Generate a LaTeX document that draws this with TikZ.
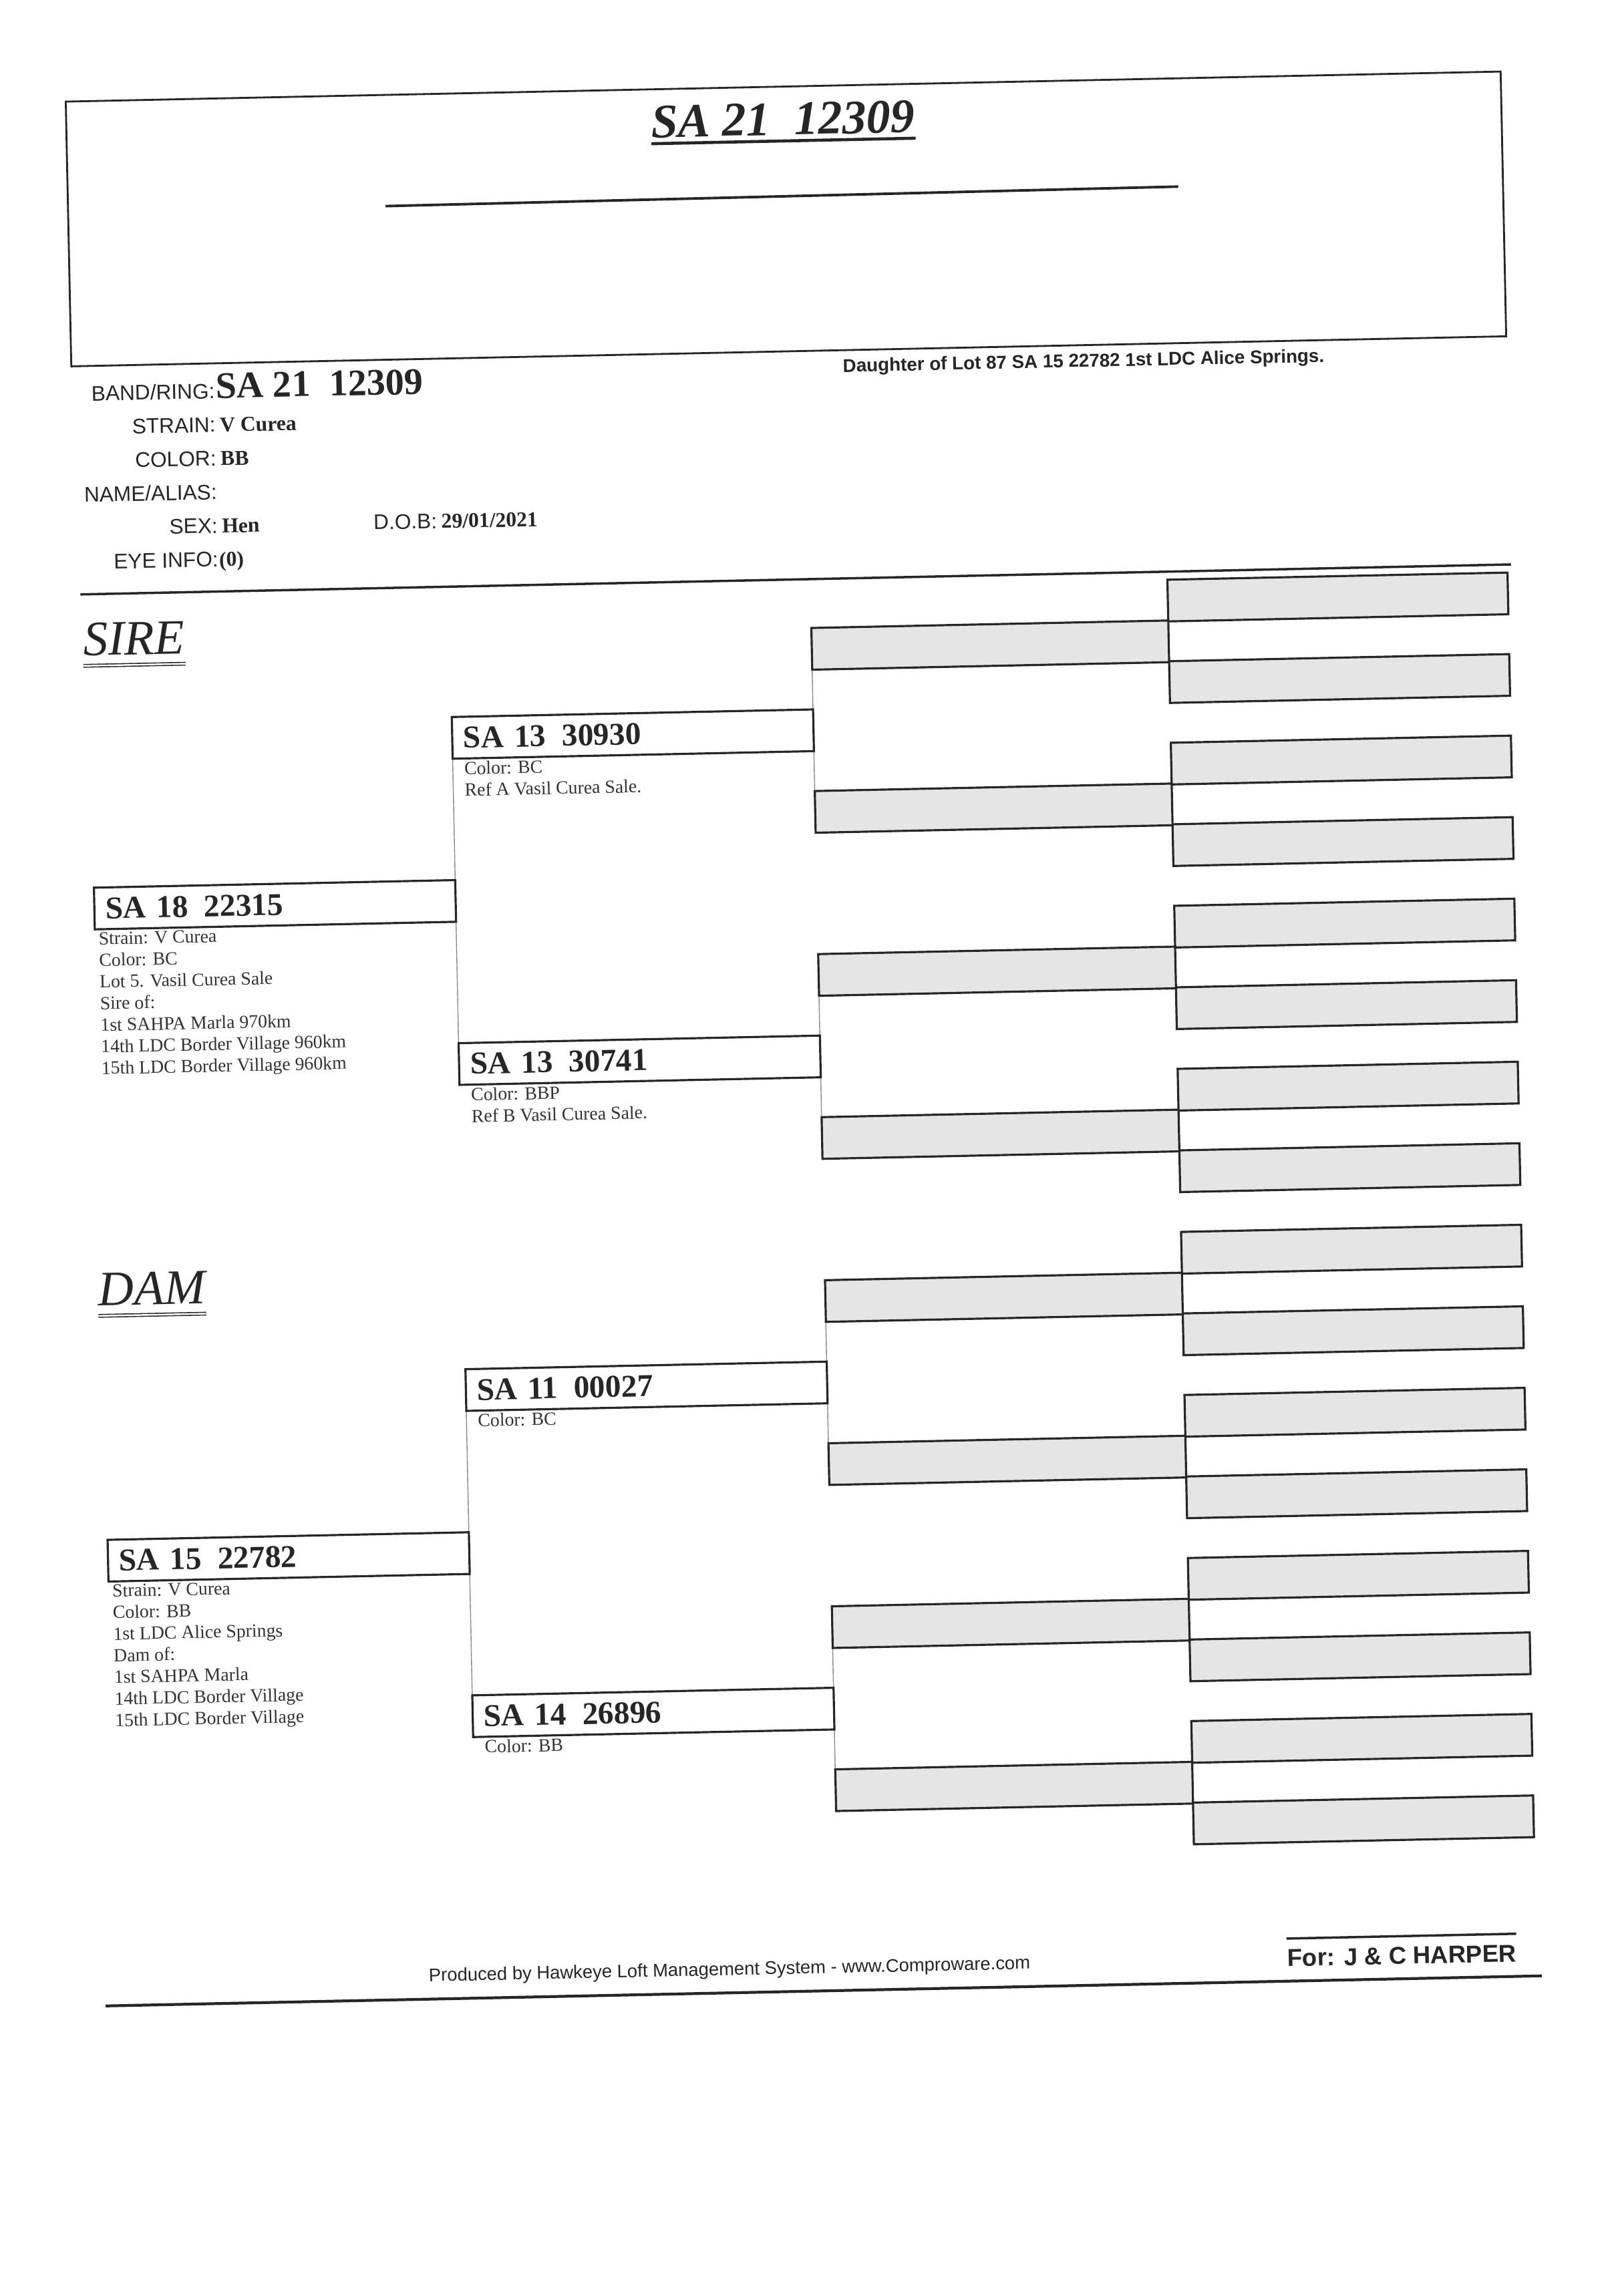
\documentclass[tikz,border=0pt]{standalone}
\usepackage{fontspec}
\setmainfont{Liberation Serif}
\setsansfont{Liberation Sans}
\pgfdeclarelayer{back}
\pgfsetlayers{back,main}

\begin{document}
\begin{tikzpicture}[x=0.219mm,y=-0.219mm,
		pbox/.style={draw=black!85,line width=0.9pt,fill=white,anchor=north west,text width=144.5pt,minimum height=17.76pt,inner xsep=4.7pt,inner ysep=0pt,outer sep=0pt,align=left,text=black!85,font=\bfseries\fontsize{13.5}{15}\selectfont},
		gbox/.style={draw=black!85,line width=0.9pt,fill=black!10,anchor=north west,minimum height=17.76pt,inner sep=0pt,outer sep=0pt},
		link/.style={draw=black!45,line width=0.4pt},
		info/.style={anchor=north west,inner sep=0pt,align=left,text=black!80,font=\fontsize{7.9}{9.2}\selectfont},
		lbl/.style={anchor=base east,inner sep=0pt,text=black!85,font=\sffamily\fontsize{9}{11}\selectfont},
		val/.style={anchor=base west,inner sep=0pt,text=black!85,font=\bfseries\fontsize{9}{11}\selectfont}]
	\useasboundingbox (0,0) rectangle (1100,1569.4);
	\begin{pgfonlayer}{back}
		\fill[white] (0,0) rectangle (1100,1569.4);
	\end{pgfonlayer}
	\begin{scope}[rotate around={1.2:(550,784)},transform shape]
		% heading box
		\draw[black!85,line width=0.8pt] (60,59) rectangle (1041,240);
		\node[anchor=base,inner sep=0pt,text=black!85,font=\bfseries\itshape\fontsize{20.5}{24}\selectfont] (title) at (550,92) {SA 21\enspace12309};
		\draw[black!85,line width=1.3pt] ([yshift=-2.6pt]title.base west) -- ([yshift=-2.6pt]title.base east);
		\draw[black!85,line width=1.1pt] (277,135) -- (819,133);
		\node[anchor=base west,inner sep=0pt,text=black!85,font=\sffamily\bfseries\fontsize{7.9}{9}\selectfont] (daughter) at (587,255) {Daughter of Lot 87 SA 15 22782 1st LDC Alice Springs.};
		% bird details
		\node[lbl] (band) at (158,264) {BAND/RING:};
		\node[val,font=\bfseries\fontsize{16}{18}\selectfont] (band-no) at (band.base east) {SA 21\enspace12309};
		\node[lbl] (strain) at (158,287) {STRAIN:};
		\node[val,xshift=1.5pt] (strain-v) at (strain.base east) {V Curea};
		\node[lbl] (color) at (158,310) {COLOR:};
		\node[val,xshift=1.5pt] (color-v) at (color.base east) {BB};
		\node[lbl] (alias) at (158,333) {NAME/ALIAS:};
		\node[lbl] (sex) at (158,356) {SEX:};
		\node[val,xshift=1.5pt] (sex-v) at (sex.base east) {Hen};
		\node[lbl] (dob) at (308,356) {D.O.B:};
		\node[val,xshift=1.5pt] (dob-v) at (dob.base east) {29/01/2021};
		\node[lbl] (eye) at (158,379) {EYE INFO:};
		\node[val] (eye-v) at (eye.base east) {(0)};
		\draw[black!85,line width=1pt] (63,396) -- (1041,396);
		% sire and dam headings
		\node[anchor=base west,inner sep=0pt,text=black!85,font=\itshape\fontsize{21}{24}\selectfont] (sire-lbl) at (64,438) {SIRE};
		\draw[black!85,double,double distance=0.7pt,line width=0.45pt] ([yshift=-4.3pt]sire-lbl.base west) -- ([yshift=-4.3pt]sire-lbl.base east);
		\node[anchor=base west,inner sep=0pt,text=black!85,font=\itshape\fontsize{21}{24}\selectfont] (dam-lbl) at (65,882.5) {DAM};
		\draw[black!85,double,double distance=0.7pt,line width=0.45pt] ([yshift=-4.3pt]dam-lbl.base west) -- ([yshift=-4.3pt]dam-lbl.base east);
		% pedigree boxes
		\foreach \i in {0,...,15}
		\node[gbox,minimum width=144.88pt] (g4-\i) at (806,{401.5+55.74*\i}) {};
		\foreach \j in {0,...,7}
		\node[gbox,minimum width=152.04pt] (g3-\j) at (562,{429.4+111.48*\j}) {};
		\node[pbox] (g2-0) at (315,485.1) {SA 13\enspace30930};
		\node[pbox] (g2-1) at (315,708.1) {SA 13\enspace30741};
		\node[pbox] (g2-2) at (315,931.0) {SA 11\enspace00027};
		\node[pbox] (g2-3) at (315,1154.0) {SA 14\enspace26896};
		\node[pbox] (sire) at (68,596.6) {SA 18\enspace22315};
		\node[pbox] (dam) at (68,1042.5) {SA 15\enspace22782};
		\begin{pgfonlayer}{back}
			\foreach \a/\b in {0/1,2/3,4/5,6/7,8/9,10/11,12/13,14/15}
			\draw[link] (g4-\a.south west) -- (g4-\b.north west);
			\foreach \a/\b in {0/1,2/3,4/5,6/7}
			\draw[link] (g3-\a.south west) -- (g3-\b.north west);
			\draw[link] (g2-0.south west) -- (g2-1.north west);
			\draw[link] (g2-2.south west) -- (g2-3.north west);
		\end{pgfonlayer}
		% notes under the boxes
		\node[info,xshift=1.4pt,yshift=-1.2pt] (sire-info) at (sire.south west) {Strain: V Curea\\Color: BC\\Lot 5. Vasil Curea Sale\\Sire of:\\1st SAHPA Marla 970km\\14th LDC Border Village 960km\\15th LDC Border Village 960km};
		\node[info,xshift=1.4pt,yshift=-1.2pt] (dam-info) at (dam.south west) {Strain: V Curea\\Color: BB\\1st LDC Alice Springs\\Dam of:\\1st SAHPA Marla\\14th LDC Border Village\\15th LDC Border Village};
		\node[info,xshift=4.7pt,yshift=-1.2pt] (g2-0-info) at (g2-0.south west) {Color: BC\\Ref A Vasil Curea Sale.};
		\node[info,xshift=4.7pt,yshift=-1.2pt] (g2-1-info) at (g2-1.south west) {Color: BBP\\Ref B Vasil Curea Sale.};
		\node[info,xshift=4.7pt,yshift=-1.2pt] (g2-2-info) at (g2-2.south west) {Color: BC};
		\node[info,xshift=4.7pt,yshift=-1.2pt] (g2-3-info) at (g2-3.south west) {Color: BB};
		% footer
		\node[anchor=base west,inner sep=0pt,text=black!85,font=\sffamily\fontsize{7.8}{9}\selectfont] (produced) at (281,1349) {Produced by Hawkeye Loft Management System - www.Comproware.com};
		\node[anchor=base west,inner sep=0pt,text=black!85,font=\sffamily\bfseries\fontsize{10.4}{12}\selectfont] (owner) at (868,1351) {For: J \& C HARPER};
		\draw[black!85,line width=1pt] ([yshift=4.4pt]owner.north west) -- ([yshift=4.4pt]owner.north east);
		\draw[black!85,line width=1.2pt] (60,1361) -- (1042,1361);
	\end{scope}
\end{tikzpicture}
\end{document}
